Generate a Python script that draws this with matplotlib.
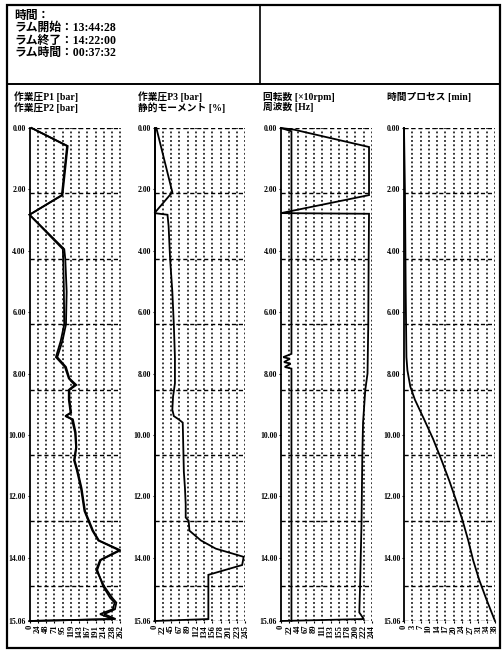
import numpy as np
import matplotlib
matplotlib.use("Agg")
import matplotlib.pyplot as plt
from matplotlib.patches import Rectangle
from matplotlib.lines import Line2D

plt.rcParams['font.family'] = ['Liberation Serif', 'Noto Sans CJK JP']
plt.rcParams['font.weight'] = 'bold'

# depth [m] of the ram run
depth_end = 15.06
depth_labels = [0, 2, 4, 6, 8, 10, 12, 14]

# working pressure P1 / P2 [bar]
depth_p1 = [0.00, 0.55, 2.05, 2.65, 3.70, 4.00, 5.00, 6.00, 6.50, 7.00, 7.30, 7.65,
            7.85, 8.00, 8.30, 8.70, 8.80, 8.90, 9.30, 9.75, 10.15, 10.45, 11.00,
            11.70, 12.30, 12.60, 12.90, 13.20, 13.50, 14.00, 14.35, 14.50, 14.70,
            14.85, 15.00, 15.06]
p1 = [6, 110, 95, 0, 100, 103, 107, 105, 95, 80, 105, 115, 135, 115, 115, 120, 105,
      125, 133, 135, 130, 138, 150, 160, 183, 200, 262, 205, 195, 212, 232, 245, 240,
      203, 240, 0]
p2 = [6, 108, 93, 0, 96, 97, 99, 100, 90, 76, 102, 113, 130, 113, 113, 118, 103,
      122, 131, 134, 128, 136, 148, 158, 181, 198, 258, 203, 192, 215, 238, 250, 246,
      215, 248, 0]

# working pressure P3 [bar] / static moment [%]
depth_p3 = [0.00, 1.96, 2.60, 2.65, 3.00, 4.00, 5.00, 6.00, 7.00, 7.80, 8.20, 8.60,
            8.80, 8.90, 9.00, 10.00, 10.50, 11.00, 11.50, 11.90, 12.00, 12.30, 12.60,
            12.85, 13.10, 13.35, 13.65, 14.50, 15.00, 15.06]
p3 = [5, 48, 0, 35, 38, 42, 48, 52, 55, 55, 50, 48, 52, 65, 76, 78, 79, 82, 84, 84,
      92, 94, 125, 165, 240, 236, 145, 145, 145, 0]
depth_moment = [0.00, 15.06]
moment = [0, 0]

# rotation [x10 rpm] / frequency [Hz]
depth_rpm = [0.00, 0.05, 0.58, 2.05, 2.60, 2.62, 4.00, 6.00, 7.50, 8.00, 9.00, 10.00,
             12.00, 14.00, 14.80, 15.00, 15.06]
rpm = [0, 35, 236, 236, 0, 236, 235, 234, 232, 226, 220, 218, 216, 212, 210, 222, 0]
depth_hz = [0.00, 0.10, 6.90, 7.00, 7.05, 7.15, 7.20, 7.30, 7.35, 15.06]
hz = [0, 28, 28, 6, 24, 8, 26, 10, 28, 28]

# time process [min]
depth_t = [0.00, 2.00, 5.00, 7.00, 7.40, 7.90, 8.30, 8.90, 9.50, 10.15, 10.80, 11.40,
           12.00, 12.60, 13.20, 13.80, 14.40, 15.06]
t_min = [0.0, 0.4, 0.7, 1.0, 1.4, 2.6, 4.5, 8.3, 12.0, 15.5, 18.8, 21.6, 24.2, 26.5,
         28.5, 31.0, 34.0, 37.53]

xmax = [262, 245, 244, 37.53]
xlabels = [
    ['0', '24', '48', '71', '95', '119', '143', '167', '191', '214', '238', '262'],
    ['0', '22', '45', '67', '89', '112', '134', '156', '178', '201', '223', '245'],
    ['0', '22', '44', '67', '89', '111', '133', '155', '178', '200', '222', '244'],
    ['0', '3', '7', '10', '14', '17', '20', '24', '27', '31', '34', '38'],
]
titles = [
    ['作業圧P1 [bar]', '作業圧P2 [bar]'],
    ['作業圧P3 [bar]', '静的モーメント [%]'],
    ['回転数 [×10rpm]', '周波数 [Hz]'],
    ['時間プロセス [min]'],
]
header = ['時間：', 'ラム開始：13:44:28', 'ラム終了：14:22:00', 'ラム時間：00:37:32']

W, H = 503, 651
fig = plt.figure(figsize=(W / 100, H / 100), dpi=100)


def px_rect(l, t, r, b):
    return [l / W, 1 - b / H, (r - l) / W, (b - t) / H]


# frame and header boxes
fig.add_artist(Rectangle((7 / W, 1 - 648 / H), 493 / W, 643 / H, transform=fig.transFigure,
                         fill=False, lw=1.6, ec='black'))
fig.add_artist(Line2D([7 / W, 500 / W], [1 - 84 / H, 1 - 84 / H], transform=fig.transFigure,
                      lw=1.4, color='black'))
fig.add_artist(Line2D([260 / W, 260 / W], [1 - 5 / H, 1 - 84 / H], transform=fig.transFigure,
                      lw=1.2, color='black'))
for i, s in enumerate(header):
    fig.text(14 / W, 1 - (16 + 12.2 * i) / H, s, fontsize=8.5, va='center', ha='left')

lefts = [29.5, 154.5, 281, 404]
title_x = [14, 138, 263, 387]
series = [
    [(depth_p1, p1), (depth_p1, p2)],
    [(depth_p3, p3), (depth_moment, moment)],
    [(depth_rpm, rpm), (depth_hz, hz)],
    [(depth_t, t_min)],
]

for k in range(4):
    for j, s in enumerate(titles[k]):
        fig.text(title_x[k] / W, 1 - (97 + 10.5 * j) / H, s, fontsize=7,
                 va='center', ha='left')

    ax = fig.add_axes(px_rect(lefts[k], 128, lefts[k] + 91, 621))
    ax.set_xlim(0, xmax[k])
    ax.set_ylim(depth_end, 0)

    for d, v in series[k]:
        ax.plot(v, d, color='black', lw=1.3, solid_joinstyle='miter', clip_on=False)

    xt = np.linspace(0, xmax[k], 12)
    for x in xt[1:]:
        ax.axvline(x, color='black', lw=1.1, ls=(0, (1.2, 1.6)))
    for d in depth_labels[1:] + [0, depth_end]:
        ax.axhline(d, color='black', lw=1.0, ls=(0, (3, 2)))

    for side in ['top', 'right', 'bottom']:
        ax.spines[side].set_visible(False)
    ax.spines['left'].set_linewidth(1.3)

    ax.set_xticks(xt)
    ax.set_xticklabels(xlabels[k], rotation=90, fontsize=6.2)
    ax.set_yticks([d * depth_end / (depth_end + 1) for d in depth_labels] + [depth_end])
    ax.set_yticklabels(['%.2f' % d for d in depth_labels] + ['%.2f' % depth_end],
                       fontsize=5.6)
    ax.tick_params(axis='both', length=1.5, width=0.8, pad=1.2)

fig.savefig('out.png', dpi=100, facecolor='white')
